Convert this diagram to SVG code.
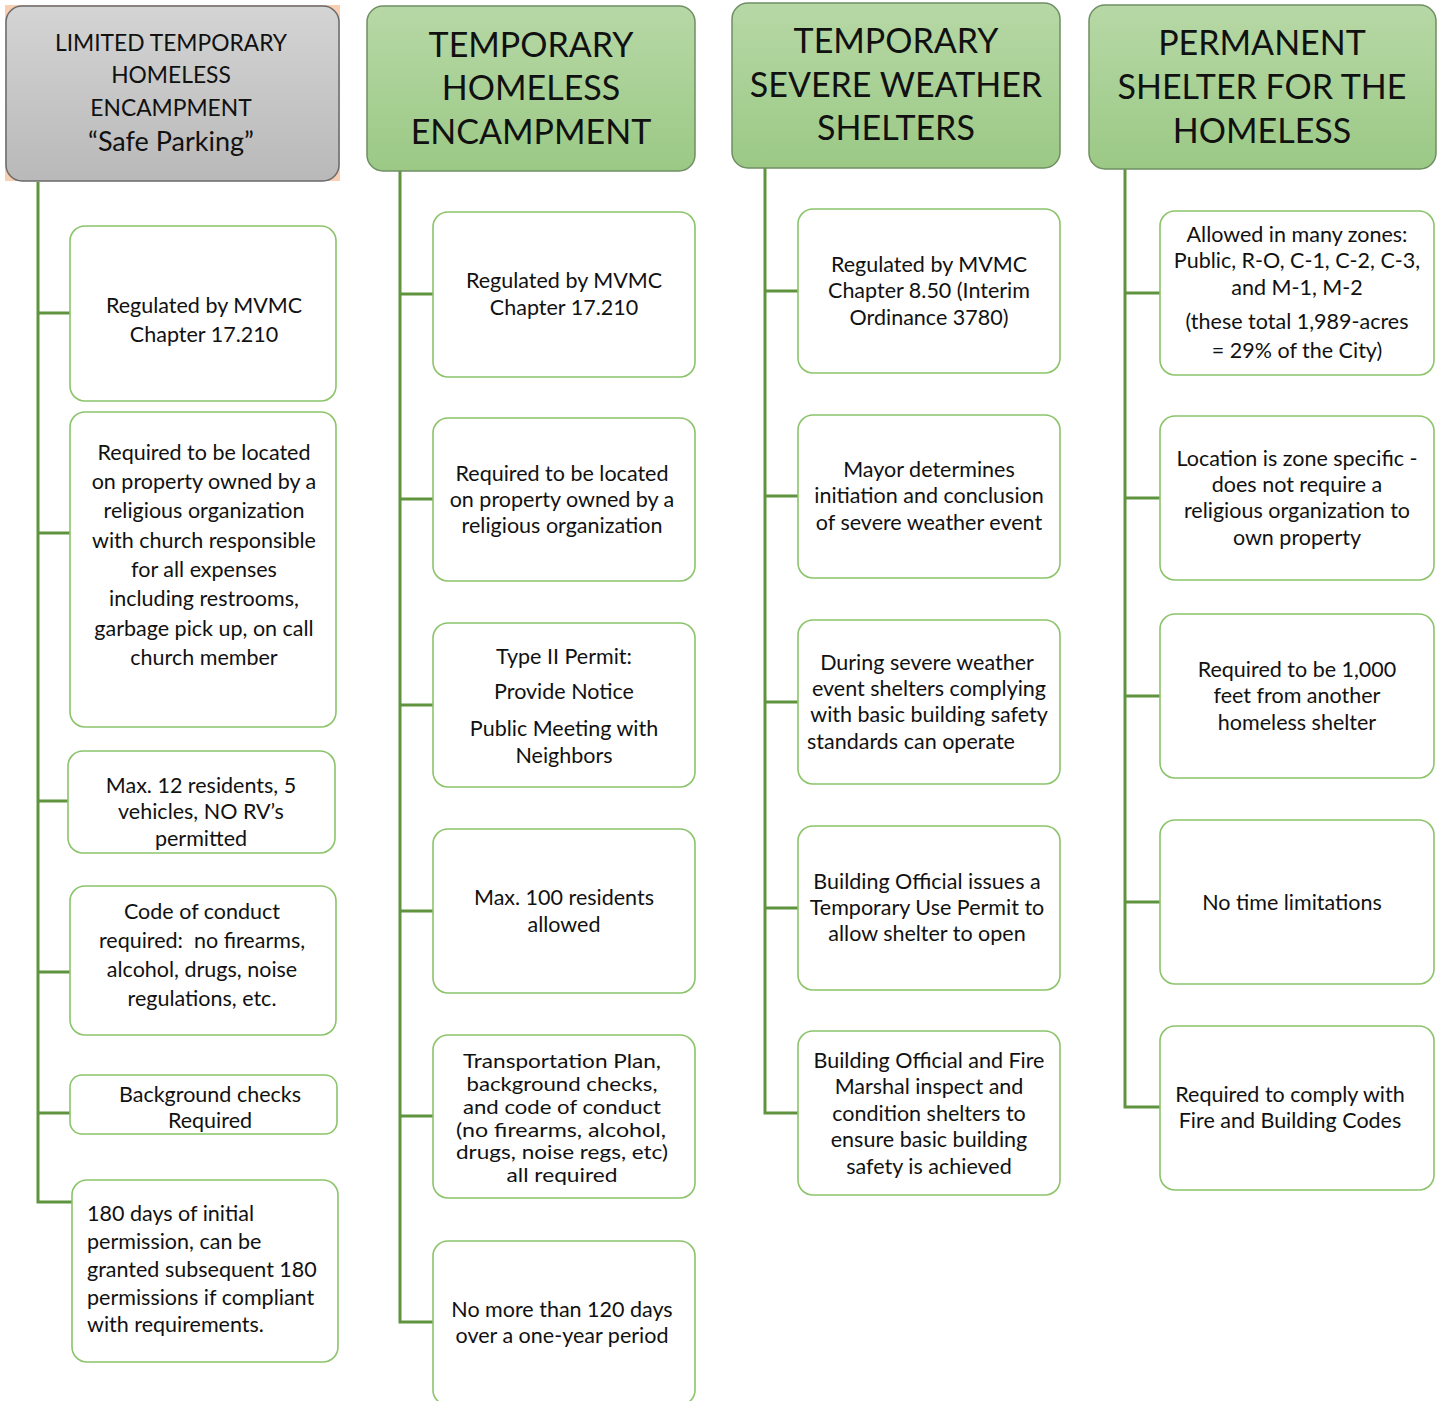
<svg xmlns="http://www.w3.org/2000/svg" width="1442" height="1401" viewBox="0 0 1442 1401">
<defs>
<linearGradient id="gg" x1="0" y1="0" x2="0" y2="1"><stop offset="0" stop-color="#b7d8a6"/><stop offset="1" stop-color="#9bc985"/></linearGradient>
<linearGradient id="gr" x1="0" y1="0" x2="0" y2="1"><stop offset="0" stop-color="#d4d4d4"/><stop offset="1" stop-color="#b9b9b9"/></linearGradient>
<style>
.hd{stroke:#6f8f63;stroke-width:1.5;fill:url(#gg)}
.hg{stroke:#6a6a6a;stroke-width:1.5;fill:url(#gr)}
.bx{fill:#fff;stroke:#8cc46b;stroke-width:1.6}
.t{font-family:Lato,"Liberation Sans",sans-serif;font-size:21.5px;fill:#111;text-anchor:middle}
.s{font-size:20px}
.l{text-anchor:start}
.h{font-family:Lato,"Liberation Sans",sans-serif;font-size:34px;fill:#111;text-anchor:middle}
.hs{font-family:Lato,"Liberation Sans",sans-serif;font-size:22.8px;fill:#111;text-anchor:middle}
.c{fill:none;stroke:#5f933e;stroke-width:3}
</style>
</defs>
<rect width="1442" height="1401" fill="#fff"/>
<g id="connectors">
<path class="c" d="M38 182V1202H72M38 313H70M38 533H70M38 801H68M38 972H70M38 1113H70"/>
<path class="c" d="M400 171V1322H433M400 294H433M400 499H433M400 705H433M400 911H433M400 1116H433"/>
<path class="c" d="M765 168V1113H798M765 291H798M765 496H798M765 702H798M765 908H798"/>
<path class="c" d="M1125 169V1107H1160M1125 293H1160M1125 498H1160M1125 696H1160M1125 902H1160"/>
</g>
<g id="h1">
<rect x="5" y="5" width="335" height="176" fill="#f8cfb2"/>
<rect class="hg" x="6" y="6" width="333" height="175" rx="16"/>
<text class="hs" x="171" y="51">LIMITED TEMPORARY</text>
<text class="hs" x="171" y="83">HOMELESS</text>
<text class="hs" x="171" y="116">ENCAMPMENT</text>
<text class="hs" x="171" y="151" style="font-size:27px">“Safe Parking”</text>
</g>
<g id="h2">
<rect class="hd" x="367" y="6" width="328" height="165" rx="16"/>
<text class="h" x="531" y="57">TEMPORARY</text>
<text class="h" x="531" y="100">HOMELESS</text>
<text class="h" x="531" y="144">ENCAMPMENT</text>
</g>
<g id="h3">
<rect class="hd" x="732" y="3" width="328" height="165" rx="16"/>
<text class="h" x="896" y="53">TEMPORARY</text>
<text class="h" x="896" y="97">SEVERE WEATHER</text>
<text class="h" x="896" y="140">SHELTERS</text>
</g>
<g id="h4">
<rect class="hd" x="1089" y="5" width="347" height="164" rx="16"/>
<text class="h" x="1262" y="55">PERMANENT</text>
<text class="h" x="1262" y="99">SHELTER FOR THE</text>
<text class="h" x="1262" y="143">HOMELESS</text>
</g>
<g id="c1b1"><rect class="bx" x="70" y="226" width="266" height="175" rx="15"/>
<text class="t" x="204" y="313">Regulated by MVMC</text><text class="t" x="204" y="342">Chapter 17.210</text></g>
<g id="c1b2"><rect class="bx" x="70" y="412" width="266" height="315" rx="15"/>
<text class="t" x="204" y="460">Required to be located</text>
<text class="t" x="204" y="489">on property owned by a</text>
<text class="t" x="204" y="518">religious organization</text>
<text class="t" x="204" y="548">with church responsible</text>
<text class="t" x="204" y="577">for all expenses</text>
<text class="t" x="204" y="606">including restrooms,</text>
<text class="t" x="204" y="636">garbage pick up, on call</text>
<text class="t" x="204" y="665">church member</text></g>
<g id="c1b3"><rect class="bx" x="68" y="751" width="267" height="102" rx="15"/>
<text class="t" x="201" y="793">Max. 12 residents, 5</text>
<text class="t" x="201" y="819">vehicles, NO RV’s</text>
<text class="t" x="201" y="846">permitted</text></g>
<g id="c1b4"><rect class="bx" x="70" y="886" width="266" height="149" rx="15"/>
<text class="t" x="202" y="919">Code of conduct</text>
<text class="t" x="202" y="948" style="white-space:pre">required:  no firearms,</text>
<text class="t" x="202" y="977">alcohol, drugs, noise</text>
<text class="t" x="202" y="1006">regulations, etc.</text></g>
<g id="c1b5"><rect class="bx" x="70" y="1075" width="267" height="59" rx="12"/>
<text class="t" x="210" y="1102">Background checks</text>
<text class="t" x="210" y="1128">Required</text></g>
<g id="c1b6"><rect class="bx" x="72" y="1180" width="266" height="182" rx="15"/>
<text class="t l" x="87" y="1221">180 days of initial</text>
<text class="t l" x="87" y="1249">permission, can be</text>
<text class="t l" x="87" y="1277">granted subsequent 180</text>
<text class="t l" x="87" y="1305">permissions if compliant</text>
<text class="t l" x="87" y="1332">with requirements.</text></g>
<g id="c2b1"><rect class="bx" x="433" y="212" width="262" height="165" rx="15"/>
<text class="t" x="564" y="288">Regulated by MVMC</text><text class="t" x="564" y="315">Chapter 17.210</text></g>
<g id="c2b2"><rect class="bx" x="433" y="418" width="262" height="163" rx="15"/>
<text class="t" x="562" y="481">Required to be located</text>
<text class="t" x="562" y="507">on property owned by a</text>
<text class="t" x="562" y="533">religious organization</text></g>
<g id="c2b3"><rect class="bx" x="433" y="623" width="262" height="164" rx="15"/>
<text class="t" x="564" y="664">Type II Permit:</text>
<text class="t" x="564" y="699">Provide Notice</text>
<text class="t" x="564" y="736">Public Meeting with</text>
<text class="t" x="564" y="763">Neighbors</text></g>
<g id="c2b4"><rect class="bx" x="433" y="829" width="262" height="164" rx="15"/>
<text class="t" x="564" y="905">Max. 100 residents</text>
<text class="t" x="564" y="932">allowed</text></g>
<g id="c2b5"><rect class="bx" x="433" y="1035" width="262" height="163" rx="15"/>
<text class="t s" x="562" y="1068" textLength="198" lengthAdjust="spacingAndGlyphs">Transportation Plan,</text>
<text class="t s" x="562" y="1091" textLength="191" lengthAdjust="spacingAndGlyphs">background checks,</text>
<text class="t s" x="562" y="1114" textLength="198" lengthAdjust="spacingAndGlyphs">and code of conduct</text>
<text class="t s" x="561" y="1137" textLength="210" lengthAdjust="spacingAndGlyphs">(no firearms, alcohol,</text>
<text class="t s" x="562" y="1159" textLength="212" lengthAdjust="spacingAndGlyphs">drugs, noise regs, etc)</text>
<text class="t s" x="562" y="1182" textLength="111" lengthAdjust="spacingAndGlyphs">all required</text></g>
<g id="c2b6"><rect class="bx" x="433" y="1241" width="262" height="164" rx="15"/>
<text class="t" x="562" y="1317">No more than 120 days</text>
<text class="t" x="562" y="1343">over a one-year period</text></g>
<g id="c3b1"><rect class="bx" x="798" y="209" width="262" height="164" rx="15"/>
<text class="t" x="929" y="272">Regulated by MVMC</text>
<text class="t" x="929" y="298">Chapter 8.50 (Interim</text>
<text class="t" x="929" y="325">Ordinance 3780)</text></g>
<g id="c3b2"><rect class="bx" x="798" y="415" width="262" height="163" rx="15"/>
<text class="t" x="929" y="477">Mayor determines</text>
<text class="t" x="929" y="503">initiation and conclusion</text>
<text class="t" x="929" y="530">of severe weather event</text></g>
<g id="c3b3"><rect class="bx" x="798" y="620" width="262" height="164" rx="15"/>
<text class="t" x="927" y="670">During severe weather</text>
<text class="t" x="929" y="696">event shelters complying</text>
<text class="t" x="929" y="722">with basic building safety</text>
<text class="t l" x="807" y="749">standards can operate</text></g>
<g id="c3b4"><rect class="bx" x="798" y="826" width="262" height="164" rx="15"/>
<text class="t" x="927" y="889">Building Official issues a</text>
<text class="t" x="927" y="915">Temporary Use Permit to</text>
<text class="t" x="927" y="941">allow shelter to open</text></g>
<g id="c3b5"><rect class="bx" x="798" y="1031" width="262" height="164" rx="15"/>
<text class="t" x="929" y="1068">Building Official and Fire</text>
<text class="t" x="929" y="1094">Marshal inspect and</text>
<text class="t" x="929" y="1121">condition shelters to</text>
<text class="t" x="929" y="1147">ensure basic building</text>
<text class="t" x="929" y="1174">safety is achieved</text></g>
<g id="c4b1"><rect class="bx" x="1160" y="211" width="274" height="164" rx="15"/>
<text class="t" x="1297" y="242">Allowed in many zones:</text>
<text class="t" x="1297" y="268">Public, R-O, C-1, C-2, C-3,</text>
<text class="t" x="1297" y="295">and M-1, M-2</text>
<text class="t" x="1297" y="329">(these total 1,989-acres</text>
<text class="t" x="1297" y="358">= 29% of the City)</text></g>
<g id="c4b2"><rect class="bx" x="1160" y="416" width="274" height="164" rx="15"/>
<text class="t" x="1297" y="466">Location is zone specific -</text>
<text class="t" x="1297" y="492">does not require a</text>
<text class="t" x="1297" y="518">religious organization to</text>
<text class="t" x="1297" y="545">own property</text></g>
<g id="c4b3"><rect class="bx" x="1160" y="614" width="274" height="164" rx="15"/>
<text class="t" x="1297" y="677">Required to be 1,000</text>
<text class="t" x="1297" y="703">feet from another</text>
<text class="t" x="1297" y="730">homeless shelter</text></g>
<g id="c4b4"><rect class="bx" x="1160" y="820" width="274" height="164" rx="15"/>
<text class="t" x="1292" y="910">No time limitations</text></g>
<g id="c4b5"><rect class="bx" x="1160" y="1026" width="274" height="164" rx="15"/>
<text class="t" x="1290" y="1102">Required to comply with</text>
<text class="t" x="1290" y="1128">Fire and Building Codes</text></g>
</svg>
